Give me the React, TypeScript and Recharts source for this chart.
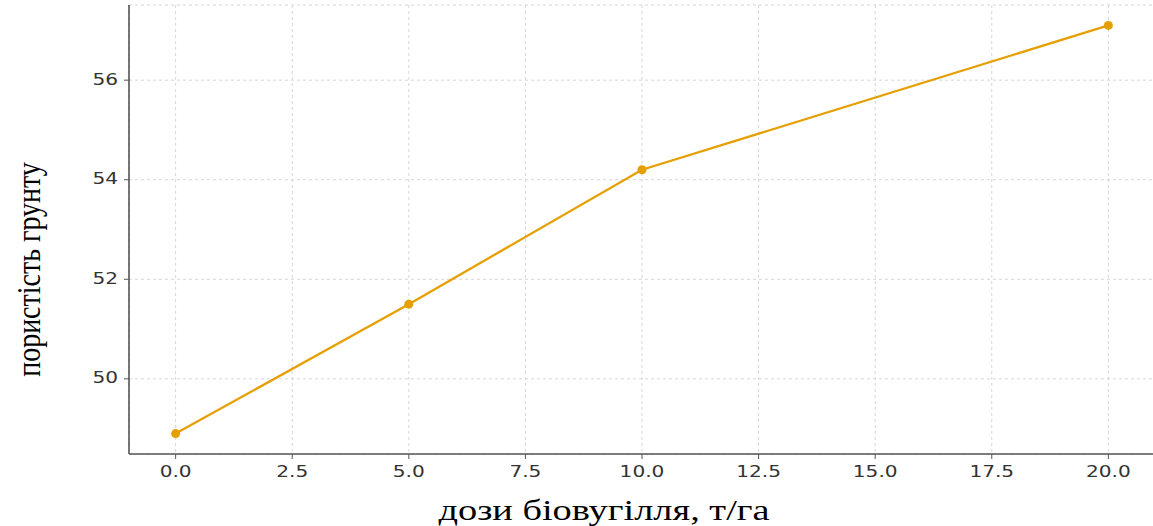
import React from 'react';
import { LineChart, Line, XAxis, YAxis, CartesianGrid } from 'recharts';

// дози біовугілля, т/га
const doses = [0, 5, 10, 20];
// пористість грунту, %
const porosity = [48.9, 51.5, 54.2, 57.1];

const xTicks = [0, 2.5, 5, 7.5, 10, 12.5, 15, 17.5, 20];
const yTicks = [50, 52, 54, 56];

const data = doses.map((d, i) => ({ dose: d, porosity: porosity[i] }));

const tickColor = '#333';
const axisColor = '#555';
const lineColor = '#e69f00';

// the reference looks a bit stretched sideways, so the text is widened too
const XTick = (props: any) => {
    const { x, y, payload } = props;
    return (
        <g transform={`translate(${x},${y + 12})`}>
            <text transform="scale(1.22,1)" textAnchor="middle" fill={tickColor} fontSize={16.5}
                fontFamily="DejaVu Sans" dominantBaseline="middle">
                {Number(payload.value).toFixed(1)}
            </text>
        </g>
    );
};

const YTick = (props: any) => {
    const { x, y, payload } = props;
    return (
        <g transform={`translate(${x - 4},${y})`}>
            <text transform="scale(1.22,1)" textAnchor="end" fill={tickColor} fontSize={16.5}
                fontFamily="DejaVu Sans" dominantBaseline="middle">
                {payload.value}
            </text>
        </g>
    );
};

const XLabel = (props: any) => {
    const { viewBox } = props;
    return (
        <g transform={`translate(604,${viewBox.y + 66})`}>
            <text transform="scale(1.28,1)" textAnchor="middle"
                fontFamily="Liberation Serif" fontSize={30} fill="#000">
                дози біовугілля, т/га
            </text>
        </g>
    );
};

const YLabel = (props: any) => {
    const { viewBox } = props;
    const cy = viewBox.y + viewBox.height / 2 + 40;
    return (
        <g transform={`translate(40,${cy}) rotate(-90) scale(1,1.2)`}>
            <text textAnchor="middle" fontFamily="Liberation Serif" fontSize={28} fill="#000">
                пористість грунту
            </text>
        </g>
    );
};

export default function App() {
    return (
        <div style={{ position: 'absolute', left: 0, top: 0, width: 1153, height: 526, overflow: 'hidden', background: '#fff' }}>
            <LineChart width={1155} height={526} data={data} margin={{ top: 5, right: 0, bottom: 0, left: 0 }}>
                <CartesianGrid stroke="#d6d6d6" strokeDasharray="3 3" />
                <XAxis
                    type="number"
                    dataKey="dose"
                    domain={[-1, 21]}
                    ticks={xTicks}
                    allowDataOverflow
                    height={72}
                    axisLine={{ stroke: axisColor, strokeWidth: 1.6 }}
                    tickLine={{ stroke: axisColor }}
                    tickSize={5}
                    tick={<XTick />}
                    label={<XLabel />}
                />
                <YAxis
                    type="number"
                    domain={[48.49, 57.51]}
                    ticks={yTicks}
                    allowDataOverflow
                    width={129}
                    axisLine={{ stroke: axisColor, strokeWidth: 1.6 }}
                    tickLine={{ stroke: axisColor }}
                    tickSize={5}
                    tick={<YTick />}
                    label={<YLabel />}
                />
                <Line
                    type="linear"
                    dataKey="porosity"
                    stroke={lineColor}
                    strokeWidth={2.3}
                    dot={{ r: 4.5, fill: lineColor, stroke: lineColor, strokeWidth: 0 }}
                    activeDot={false}
                    isAnimationActive={false}
                />
            </LineChart>
        </div>
    );
}
